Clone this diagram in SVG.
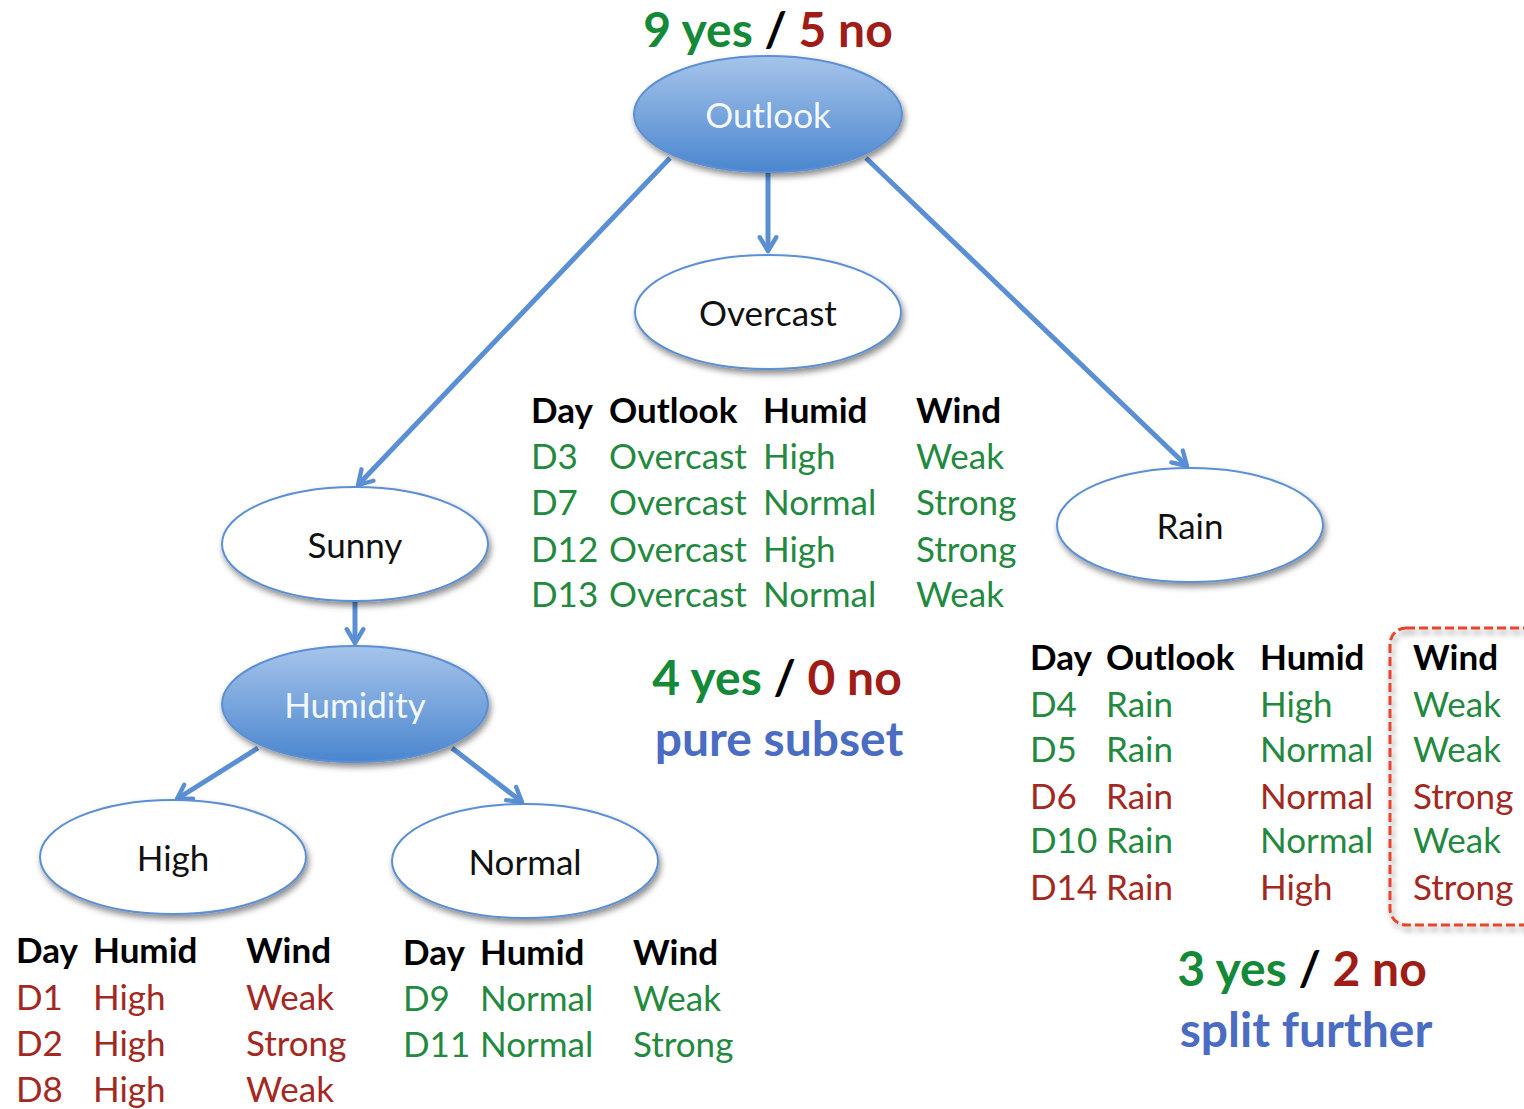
<svg xmlns="http://www.w3.org/2000/svg" width="1524" height="1109" viewBox="0 0 1524 1109">
  <defs>
    <linearGradient id="blueFill" x1="0" y1="0" x2="0" y2="1">
      <stop offset="0" stop-color="#a6c4ea"/>
      <stop offset="1" stop-color="#4a86cf"/>
    </linearGradient>
    <filter id="shadow" x="-20%" y="-20%" width="140%" height="150%">
      <feDropShadow dx="2" dy="4" stdDeviation="3" flood-color="#000" flood-opacity="0.45"/>
    </filter>
    <marker id="arrow" viewBox="0 0 12 12" refX="10" refY="6" markerWidth="4.4" markerHeight="4.4" markerUnits="strokeWidth" orient="auto">
      <path d="M2.5,1.5 L10,6 L2.5,10.5" fill="none" stroke="#5b8fd4" stroke-width="2.4" stroke-linecap="round" stroke-linejoin="round"/>
    </marker>
  </defs>
  <style>
    text { font-family: Lato, "Open Sans", "Liberation Sans", sans-serif; }
    .node { stroke: #5b8fd4; stroke-width: 2; filter: url(#shadow); }
    .leaf { fill: #ffffff; }
    .split { fill: url(#blueFill); }
    .lbl { font-size: 35px; fill: #111; text-anchor: middle; }
    .lblw { font-size: 35px; fill: #f4f8ff; text-anchor: middle; }
    .edge { stroke: #5b8fd4; stroke-width: 5; fill: none; marker-end: url(#arrow); }
    .th { font-size: 35px; font-weight: bold; fill: #000; }
    .td { font-size: 35px; }
    .g { fill: #23893f; }
    .r { fill: #a3281f; }
    .sum { font-size: 48px; font-weight: bold; }
    .yes { fill: #148a38; }
    .no { fill: #a01c17; }
    .sl { fill: #000; }
    .note { font-size: 48px; font-weight: bold; fill: #4a6cc2; }
  </style>

  <rect width="1524" height="1109" fill="#ffffff"/>

  <!-- connectors -->
  <g id="edges">
    <line class="edge" x1="768" y1="173" x2="768" y2="251"/>
    <line class="edge" x1="670" y1="158" x2="358" y2="485"/>
    <line class="edge" x1="866" y1="158" x2="1187" y2="466"/>
    <line class="edge" x1="355" y1="601" x2="355" y2="643"/>
    <line class="edge" x1="258" y1="748" x2="177" y2="799"/>
    <line class="edge" x1="452" y1="748" x2="522" y2="802"/>
  </g>

  <!-- root split -->
  <g id="outlook">
    <text class="sum" x="768" y="47" text-anchor="middle"><tspan class="yes">9 yes</tspan><tspan class="sl"> / </tspan><tspan class="no">5 no</tspan></text>
    <ellipse class="node split" cx="768" cy="114" rx="134" ry="58"/>
    <text class="lblw" x="768" y="128">Outlook</text>
  </g>

  <g id="overcast">
    <ellipse class="node leaf" cx="768" cy="312" rx="133" ry="57"/>
    <text class="lbl" x="768" y="326">Overcast</text>
  </g>

  <g id="sunny">
    <ellipse class="node leaf" cx="355" cy="544" rx="133" ry="57"/>
    <text class="lbl" x="355" y="558">Sunny</text>
  </g>

  <g id="rain">
    <ellipse class="node leaf" cx="1190" cy="525" rx="133" ry="57"/>
    <text class="lbl" x="1190" y="539">Rain</text>
  </g>

  <g id="humidity">
    <ellipse class="node split" cx="355" cy="704" rx="133" ry="58"/>
    <text class="lblw" x="355" y="718">Humidity</text>
  </g>

  <g id="high">
    <ellipse class="node leaf" cx="173" cy="857" rx="133" ry="57"/>
    <text class="lbl" x="173" y="871">High</text>
  </g>

  <g id="normal">
    <ellipse class="node leaf" cx="525" cy="861" rx="133" ry="57"/>
    <text class="lbl" x="525" y="875">Normal</text>
  </g>

  <!-- Overcast subset -->
  <g id="overcast-table">
    <text class="th" x="531" y="423">Day</text>
    <text class="th" x="609" y="423">Outlook</text>
    <text class="th" x="763" y="423">Humid</text>
    <text class="th" x="916" y="423">Wind</text>
    <g class="td g">
      <text x="531" y="469">D3</text><text x="609" y="469">Overcast</text><text x="763" y="469">High</text><text x="916" y="469">Weak</text>
      <text x="531" y="515">D7</text><text x="609" y="515">Overcast</text><text x="763" y="515">Normal</text><text x="916" y="515">Strong</text>
      <text x="531" y="562">D12</text><text x="609" y="562">Overcast</text><text x="763" y="562">High</text><text x="916" y="562">Strong</text>
      <text x="531" y="607">D13</text><text x="609" y="607">Overcast</text><text x="763" y="607">Normal</text><text x="916" y="607">Weak</text>
    </g>
    <text class="sum" x="777" y="695" text-anchor="middle"><tspan class="yes">4 yes</tspan><tspan class="sl"> / </tspan><tspan class="no">0 no</tspan></text>
    <text class="note" x="779" y="756" text-anchor="middle">pure subset</text>
  </g>

  <!-- Rain subset -->
  <g id="rain-table">
    <rect x="1390" y="628" width="150" height="297" rx="16" fill="none" stroke="#e8452e" stroke-width="3" stroke-dasharray="9 4" filter="url(#shadow)"/>
    <text class="th" x="1030" y="670">Day</text>
    <text class="th" x="1106" y="670">Outlook</text>
    <text class="th" x="1260" y="670">Humid</text>
    <text class="th" x="1413" y="670">Wind</text>
    <g class="td">
      <text class="g" x="1030" y="717">D4</text><text class="g" x="1106" y="717">Rain</text><text class="g" x="1260" y="717">High</text><text class="g" x="1413" y="717">Weak</text>
      <text class="g" x="1030" y="762">D5</text><text class="g" x="1106" y="762">Rain</text><text class="g" x="1260" y="762">Normal</text><text class="g" x="1413" y="762">Weak</text>
      <text class="r" x="1030" y="809">D6</text><text class="r" x="1106" y="809">Rain</text><text class="r" x="1260" y="809">Normal</text><text class="r" x="1413" y="809">Strong</text>
      <text class="g" x="1030" y="853">D10</text><text class="g" x="1106" y="853">Rain</text><text class="g" x="1260" y="853">Normal</text><text class="g" x="1413" y="853">Weak</text>
      <text class="r" x="1030" y="900">D14</text><text class="r" x="1106" y="900">Rain</text><text class="r" x="1260" y="900">High</text><text class="r" x="1413" y="900">Strong</text>
    </g>
    <text class="sum" x="1302" y="986" text-anchor="middle"><tspan class="yes">3 yes</tspan><tspan class="sl"> / </tspan><tspan class="no">2 no</tspan></text>
    <text class="note" x="1306" y="1047" text-anchor="middle">split further</text>
  </g>

  <!-- Sunny / High subset -->
  <g id="high-table">
    <text class="th" x="16" y="963">Day</text>
    <text class="th" x="93" y="963">Humid</text>
    <text class="th" x="246" y="963">Wind</text>
    <g class="td r">
      <text x="16" y="1010">D1</text><text x="93" y="1010">High</text><text x="246" y="1010">Weak</text>
      <text x="16" y="1056">D2</text><text x="93" y="1056">High</text><text x="246" y="1056">Strong</text>
      <text x="16" y="1102">D8</text><text x="93" y="1102">High</text><text x="246" y="1102">Weak</text>
    </g>
  </g>

  <!-- Sunny / Normal subset -->
  <g id="normal-table">
    <text class="th" x="403" y="965">Day</text>
    <text class="th" x="480" y="965">Humid</text>
    <text class="th" x="633" y="965">Wind</text>
    <g class="td g">
      <text x="403" y="1011">D9</text><text x="480" y="1011">Normal</text><text x="633" y="1011">Weak</text>
      <text x="403" y="1057">D11</text><text x="480" y="1057">Normal</text><text x="633" y="1057">Strong</text>
    </g>
  </g>
</svg>
